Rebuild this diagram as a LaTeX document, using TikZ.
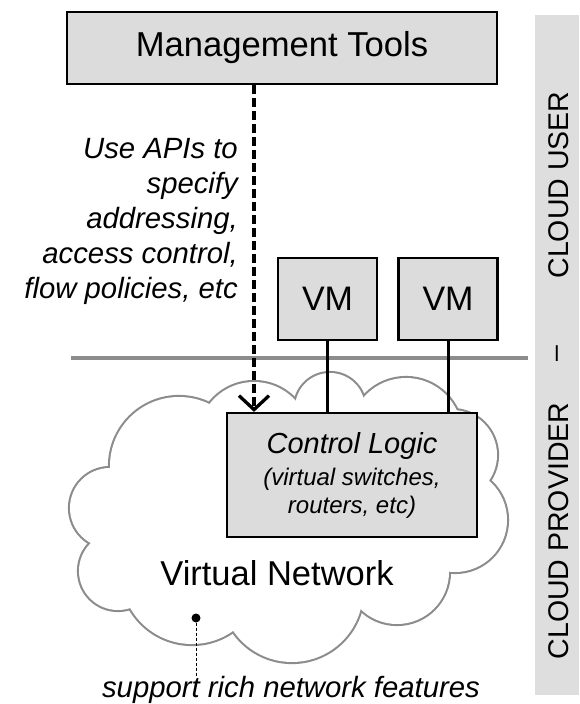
\documentclass[tikz,border=0pt]{standalone}
\usepackage{fontspec}
\setmainfont{Liberation Sans}
\usetikzlibrary{arrows.meta}
\definecolor{boxfill}{HTML}{DCDCDC}
\definecolor{bandfill}{HTML}{DEDEDE}
\definecolor{cloudline}{HTML}{8C8C8C}
\begin{document}
\begin{tikzpicture}[x=1pt,y=-1pt,
  box/.style={draw=black, line width=2.2pt, fill=boxfill, inner sep=0pt, align=center},
  vmbox/.style={box, minimum width=99pt, minimum height=82pt, font=\fontsize{34}{40}\selectfont},
  link/.style={draw=black, line width=3pt},
  api/.style={draw=black, line width=3.3pt, dash pattern=on 9pt off 4pt, -{Straight Barb[length=14pt,width=30pt]}},
  bandtext/.style={rotate=90, anchor=base, inner sep=0pt, font=\fontsize{28.5}{32}\selectfont},
  cloudedge/.style={draw=cloudline, line width=4.2pt}
]
\useasboundingbox (0,0) rectangle (579,704);

% side band
\fill[bandfill] (535,15) rectangle (579,695);
\node[bandtext] (prov) at (568,531) {CLOUD PROVIDER};
\node[bandtext] (sep) at (564,354) {–};
\node[bandtext] (user) at (568,185) {CLOUD USER};

% divider
\draw[draw=cloudline, line width=4.5pt] (71,358) -- (528,358);

% cloud
\def\cloudlist{179/466/69, 254/438/56, 330/408/35, 406/434/56, 452/455/45, 455/520/52, 397/572/52, 292/591/71, 192/573/71, 118/571/39, 110/508/40}
\foreach \cx/\cy/\r in \cloudlist { \draw[cloudedge] (\cx,\cy) circle[radius=\r pt]; }
\foreach \cx/\cy/\r in \cloudlist { \fill[white] (\cx,\cy) circle[radius=\r pt]; }
\fill[white] (179,466) -- (254,438) -- (330,408) -- (406,434) -- (452,455) -- (455,520) -- (397,572) -- (292,591) -- (192,573) -- (118,571) -- (110,508) -- cycle;

\node[anchor=base, inner sep=0pt, font=\fontsize{34.5}{40}\selectfont] (vnet) at (277,585) {Virtual Network};

% feature callout
\node[anchor=base, inner sep=0pt, font=\itshape\fontsize{29.3}{35}\selectfont] (feat) at (291,697) {support rich network features};
\node[circle, fill=black, inner sep=0pt, minimum size=9pt] (dot) at (196,618) {};
\draw[line width=1pt, dash pattern=on 3pt off 2pt] (dot) -- (dot |- feat.north);

% boxes
\node[box, minimum width=250pt, minimum height=124pt, font=\fontsize{24}{28}\selectfont\itshape] (ctl) at (352,475)
  {{\fontsize{29}{32}\selectfont Control Logic}\\[4pt](virtual switches,\\routers, etc)};
\node[vmbox] (vm1) at (327.5,299) {VM};
\node[vmbox] (vm2) at (448,299) {VM};
\node[box, minimum width=430pt, minimum height=72pt, font=\fontsize{34.6}{40}\selectfont] (mgmt) at (282,48) {Management Tools};

% connectors
\draw[link] (vm1.south) -- (vm1.south |- ctl.north);
\draw[link] (vm2.south) -- (vm2.south |- ctl.north);
\coordinate (apix) at (254,0);
\draw[api] (mgmt.south -| apix) -- (ctl.north -| apix);

% annotation
\node[anchor=east, align=right, inner sep=0pt, font=\itshape\fontsize{29.3}{35}\selectfont] (apinote) at (238,221)
  {Use APIs to\\specify\\addressing,\\access control,\\flow policies, etc};
\end{tikzpicture}
\end{document}
